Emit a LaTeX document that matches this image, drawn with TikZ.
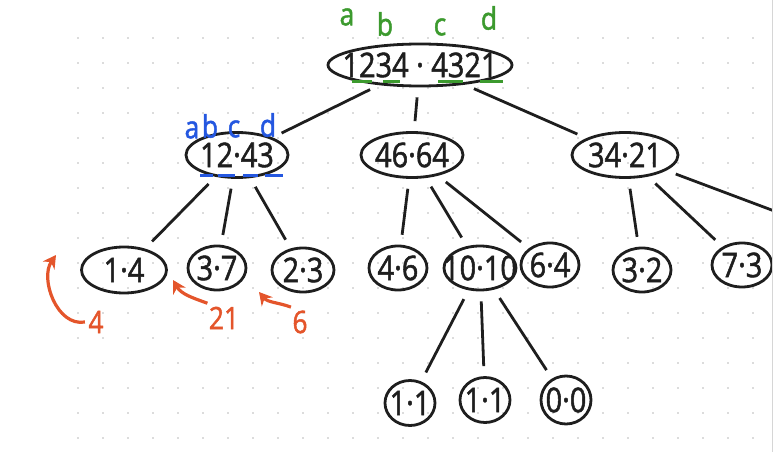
\documentclass[tikz,border=0pt]{standalone}
\usepackage{fontspec}
\setmainfont{Open Sans}[FakeStretch=0.85,FakeBold=1.5]
\usepackage{xcolor}
\definecolor{cInk}{HTML}{1E1E1E}
\definecolor{cGreen}{HTML}{3C9A2E}
\definecolor{cBlue}{HTML}{2457E0}
\definecolor{cOrange}{HTML}{E4552B}
\definecolor{cDot}{HTML}{B8B8B8}
\definecolor{cEdge}{HTML}{D6D6D6}
\usetikzlibrary{positioning,arrows.meta,shapes.geometric}
\tikzset{
  node-prod/.style={draw=cInk,line width=2.8pt,ellipse,
    inner xsep=-30pt,inner ysep=-15pt,
    font=\fontsize{34}{36}\selectfont,text=cInk},
  node-big/.style={node-prod,minimum width=184pt,minimum height=42pt},
  node-mid/.style={node-prod,minimum width=102pt,minimum height=45pt},
  node-leaf/.style={node-prod,minimum width=58pt,minimum height=44pt},
  node-small/.style={node-prod,minimum width=50pt,minimum height=45pt},
  lbl-green/.style={text=cGreen,font=\fontsize{31}{33}\selectfont},
  lbl-blue/.style={text=cBlue,font=\fontsize{31}{33}\selectfont},
  lbl-orange/.style={text=cOrange,font=\fontsize{31}{33}\selectfont},
  edge/.style={line width=2.8pt,draw=cInk,shorten <=10pt,shorten >=10pt},
  mark-green/.style={line width=3pt,draw=cGreen},
  mark-blue/.style={line width=3pt,draw=cBlue},
  arrow-back/.style={-{Stealth[length=4.5mm,width=5mm]},line width=3.2pt,draw=cOrange},
}

\begin{document}
\begin{tikzpicture}[x=1pt,y=-1pt]
  \useasboundingbox (0,0) rectangle (777,452);
  % dot grid
  \foreach \i in {78,103,...,760}
    \foreach \j in {38,63,...,440}
      \fill[cDot] (\i,\j) circle (0.9pt);

  % root and first level
  \node[node-big] (root) at (420,65) {1234 · 4321};
  \node[node-mid] (n1243) at (237,155) {12·43};
  \node[node-mid] (n4664) at (412,155) {46·64};
  \node[node-mid,minimum width=106pt] (n3421) at (625,155) {34·21};

  % second level
  \node[node-leaf,minimum width=85pt,minimum height=46pt] (n14) at (124,270) {1·4};
  \node[node-leaf] (n37) at (217,268) {3·7};
  \node[node-leaf,minimum width=62pt] (n23) at (303,270) {2·3};
  \node[node-leaf] (n46) at (398,268) {4·6};
  \node[node-leaf,minimum width=72pt] (n1010) at (480,268) {10·10};
  \node[node-leaf] (n64) at (550,265) {6·4};
  \node[node-leaf] (n32) at (642,270) {3·2};
  \node[node-leaf,minimum width=60pt] (n73) at (742,265) {7·3};
  \coordinate (off) at (777,212);

  % third level
  \node[node-small] (n11a) at (410,403) {1·1};
  \node[node-small] (n11b) at (485,400) {1·1};
  \node[node-small,minimum height=48pt] (n00) at (566,400) {0·0};

  % connectors
  \foreach \a/\b in {root/n1243,root/n4664,root/n3421,
      n1243/n14,n1243/n37,n1243/n23,n4664/n46,n4664/n1010,n4664/n64,
      n3421/n32,n3421/n73,n1010/n11a,n1010/n11b,n1010/n00}
    \draw[edge] (\a) -- (\b);
  \draw[edge,shorten >=0pt] (n3421) -- (off);

  % green labels a b c d
  \node[lbl-green] (ga) at (347,17) {a};
  \node[lbl-green] (gb) at (385,24) {b};
  \node[lbl-green] (gc) at (440,27) {c};
  \node[lbl-green] (gd) at (489,18) {d};
  \draw[mark-green] (352,82) -- (372,82);
  \draw[mark-green] (383,82) -- (400,82);
  \draw[mark-green] (438,82) -- (463,82);
  \draw[mark-green] (480,82) -- (503,82);

  % blue labels a b c d
  \node[lbl-blue] (ba) at (192,130) {a};
  \node[lbl-blue] (bb) at (210,126) {b};
  \node[lbl-blue] (bc) at (234,129) {c};
  \node[lbl-blue] (bd) at (268,125) {d};
  \draw[mark-blue] (200,175) -- (213,175);
  \draw[mark-blue] (218,175) -- (235,175);
  \draw[mark-blue] (243,175) -- (258,175);
  \draw[mark-blue] (265,175) -- (283,175);

  % orange results
  \node[lbl-orange] (r4) at (96,322) {4};
  \node[lbl-orange] (r21) at (224,318) {21};
  \node[lbl-orange] (r6) at (300,322) {6};
  \coordinate (t4) at (56,255);
  \coordinate (t21) at (173,280);
  \coordinate (t6) at (259,292);
  \draw[arrow-back] (r4.west) to[out=190,in=-125] (t4);
  \draw[arrow-back] ([xshift=2pt]r21.north west) to[out=160,in=-60] (t21);
  \draw[arrow-back] ([xshift=2pt]r6.north west) to[out=160,in=-50] (t6);

  % screen edge
  \fill[white] (773,0) rectangle (777,452);
  \draw[cEdge,thick] (772.5,0) -- (772.5,452);
\end{tikzpicture}
\end{document}
